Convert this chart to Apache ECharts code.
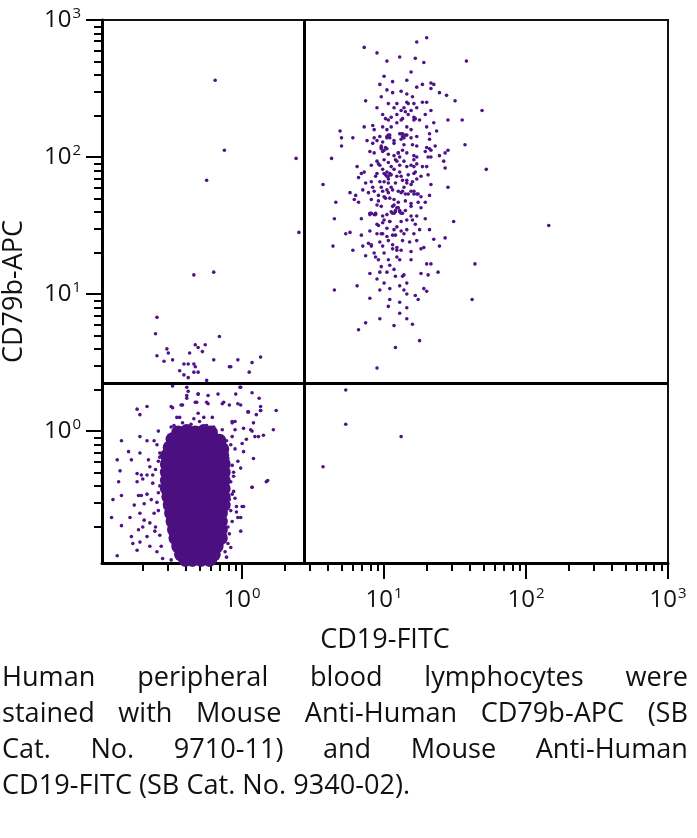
<!DOCTYPE html>
<html>
<head>
<meta charset="utf-8">
<script src="https://cdn.jsdelivr.net/npm/echarts@6/dist/echarts.min.js"></script>
<style>
  html, body { margin: 0; padding: 0; background: #fff; overflow: hidden; }
  #chart { position: absolute; left: 0; top: 0; width: 697px; height: 660px; }
  #caption { position: absolute; left: 2px; top: 657px; font-family: "Open Sans", sans-serif; font-size: 28px; line-height: 36px; color: #111; transform-origin: 0 0; }
  #caption div { white-space: nowrap; }
  #caption .j { text-align: justify; text-align-last: justify; }
</style>
</head>
<body>
<div id="chart"></div>
<div id="caption">
  <div class="j">Human peripheral blood lymphocytes were</div>
  <div class="j">stained with Mouse Anti-Human CD79b-APC (SB</div>
  <div class="j">Cat. No. 9710-11) and Mouse Anti-Human</div>
  <div id="lastLine">CD19-FITC (SB Cat. No. 9340-02).</div>
</div>
<script>
// Axis labels / names
const xName = 'CD19-FITC';
const yName = 'CD79b-APC';
const xMin = 0.103, xMax = 1000;
const yMin = 0.109, yMax = 1000;
const majorTicks = [1, 10, 100, 1000];
const minorTicks = [0.2,0.3,0.4,0.5,0.6,0.7,0.8,0.9, 2,3,4,5,6,7,8,9, 20,30,40,50,60,70,80,90, 200,300,400,500,600,700,800,900];
// Quadrant gates
const gateX = 2.74;
const gateY = 2.24;

// Events as [log10 CD19-FITC, log10 CD79b-APC]
// CD19+ CD79b+ B-cell cluster (upper right)
const bCells = [
[1.30,2.87],[1.23,2.84],[0.86,2.80],[0.95,2.76],[1.11,2.73],[1.22,2.72],[1.02,2.70],[1.28,2.69],[1.58,2.70],[1.19,2.62],[1.00,2.59],[1.16,2.56],[0.97,2.53],[1.06,2.55],[1.27,2.53],[1.33,2.54],[1.35,2.53],[1.33,2.50],[1.39,2.47],[1.44,2.45],[1.06,2.47],[1.12,2.48],[1.16,2.46],[0.98,2.44],[1.20,2.44],[0.87,2.41],[1.03,2.39],[1.09,2.39],[1.16,2.40],[1.17,2.39],[1.14,2.36],[1.30,2.40],[1.27,2.40],[1.50,2.41],[0.95,2.36],[1.12,2.34],[1.19,2.34],[1.23,2.36],[1.33,2.34],[1.69,2.34],
[0.99,2.31],[1.01,2.28],[1.05,2.29],[1.09,2.31],[1.13,2.28],[1.21,2.29],[1.22,2.28],[1.25,2.27],[1.29,2.31],[1.35,2.25],[1.45,2.27],[1.55,2.27],[0.86,2.22],[0.92,2.23],[0.93,2.20],[0.99,2.22],[1.02,2.20],[1.09,2.25],[1.16,2.22],[1.19,2.20],[1.30,2.22],[1.37,2.19],[0.69,2.19],[0.70,2.14],[0.78,2.14],[0.93,2.14],[0.95,2.12],[1.03,2.16],[1.04,2.16],[1.11,2.17],[1.13,2.15],[1.16,2.16],[1.23,2.15],[1.32,2.17],[0.99,2.11],[1.07,2.12],[1.12,2.13],[1.32,2.13],[1.36,2.08],[1.45,2.05],[1.57,2.09],
[0.70,2.08],[0.92,2.10],[0.98,2.08],[1.01,2.07],[1.07,2.10],[1.14,2.09],[1.20,2.09],[1.23,2.08],[1.30,2.07],[1.33,2.05],[0.63,1.99],[0.90,2.04],[0.99,2.04],[1.03,2.02],[1.07,2.01],[1.10,2.03],[1.16,2.03],[1.21,2.01],[1.29,2.04],[1.33,2.00],[1.39,2.01],[1.42,1.97],[1.43,2.03],[0.81,1.93],[0.86,1.89],[0.84,1.88],[0.91,1.94],[0.97,1.94],[1.03,1.96],[1.09,1.97],[1.11,1.94],[1.14,1.97],[1.16,1.93],[1.19,1.94],[1.23,1.95],[1.30,1.93],[1.43,1.92],[1.72,1.91],
[0.95,1.88],[1.01,1.87],[1.04,1.88],[1.11,1.89],[1.17,1.87],[1.21,1.88],[1.31,1.87],[0.82,1.85],[0.57,1.80],[0.87,1.81],[0.91,1.82],[0.97,1.82],[1.00,1.82],[1.03,1.84],[1.08,1.81],[1.13,1.83],[1.16,1.81],[1.20,1.82],[1.23,1.84],[1.33,1.80],[1.45,1.78],[0.76,1.74],[0.80,1.72],[0.85,1.76],[0.89,1.74],[0.93,1.75],[0.99,1.75],[1.03,1.74],[1.06,1.76],[1.10,1.75],[1.13,1.75],[1.17,1.73],[1.21,1.75],[1.23,1.73],[1.32,1.72],
[0.66,1.67],[0.82,1.67],[0.91,1.69],[0.96,1.68],[1.01,1.70],[1.07,1.69],[1.10,1.67],[1.15,1.68],[1.19,1.66],[1.24,1.67],[1.29,1.67],[0.79,1.69],[0.65,1.55],[0.84,1.55],[0.91,1.59],[0.93,1.58],[0.99,1.57],[1.05,1.60],[1.08,1.60],[1.11,1.61],[1.13,1.59],[1.19,1.57],[1.23,1.57],[1.29,1.55],[1.49,1.53],[0.73,1.44],[0.76,1.45],[0.84,1.43],[0.90,1.46],[0.95,1.51],[0.99,1.52],[1.04,1.53],[1.07,1.47],[1.12,1.46],[1.16,1.47],[1.22,1.51],[1.25,1.47],[1.32,1.47],[2.16,1.50],
[0.64,1.35],[0.78,1.32],[0.85,1.35],[0.91,1.36],[0.97,1.38],[0.99,1.35],[1.03,1.39],[1.06,1.36],[1.09,1.34],[1.13,1.39],[1.18,1.38],[1.26,1.33],[1.28,1.34],[1.35,1.40],[1.39,1.35],[1.43,1.41],[0.87,1.28],[0.94,1.27],[0.96,1.25],[1.03,1.25],[1.09,1.27],[1.11,1.25],[1.19,1.31],[1.04,1.21],[1.02,1.16],[0.97,1.16],[0.95,1.11],[1.08,1.13],[1.13,1.13],[1.14,1.14],[1.30,1.22],[1.33,1.22],[1.31,1.14],[1.38,1.16],[1.64,1.22],
[0.65,1.03],[0.81,1.06],[0.90,0.97],[0.97,1.03],[1.04,1.04],[1.11,1.06],[1.14,1.03],[1.16,1.00],[1.22,0.99],[1.24,0.96],[1.28,1.04],[1.30,1.02],[1.62,0.96],[1.04,0.96],[1.11,0.94],[1.03,0.91],[1.16,0.90],[1.11,0.86],[0.97,0.82],[0.87,0.79],[0.82,0.74],[1.07,0.77],[1.16,0.82],[1.20,0.78],[1.25,0.66],[1.08,0.61],[0.95,0.46],
[0.98,2.06],[1.00,2.05],[1.02,1.86],[1.03,1.81],[1.05,1.87],[1.09,1.63],[1.07,1.59],[1.12,1.59],[1.06,1.64],[0.90,1.59],[0.94,1.59],[1.19,1.75],[1.21,1.73],[1.12,2.17],[1.14,2.14],[1.17,2.31],[1.15,2.33],[1.02,1.76],[0.98,1.78],[1.14,1.78],[1.07,1.91],[0.99,1.91],[1.12,1.53],[1.02,1.48],[0.98,1.44],[1.06,1.43],[1.16,1.54],[1.21,1.44],[0.95,1.97],[1.23,2.00],[1.04,1.70],[0.96,1.72],[1.08,1.98],[1.13,2.05],[1.02,2.14],[1.19,2.14],[1.27,1.93],[1.26,1.71],[0.98,1.64],[1.15,1.61],[1.02,1.58],[1.00,1.88],[1.09,1.86],
[1.02,2.15],[1.04,2.14],[1.13,2.17],[1.15,2.16],[0.98,2.07],[1.02,2.06],[1.10,2.03],[1.11,2.00],[1.02,1.89],[1.03,1.86],[1.16,1.83],[1.19,1.80],[1.12,1.74],[1.15,1.73],[1.07,1.65],[1.10,1.63],[1.08,1.61],[1.11,1.60],[1.06,1.59],[0.90,1.58],[0.94,1.58],[1.04,1.53],[0.96,1.50],[0.99,1.44],[1.02,1.42],[1.08,1.43],[0.89,1.37],[0.91,1.35],[1.06,1.33],[1.09,1.32],[0.93,1.30],[1.32,2.06],[1.31,2.00],[1.22,1.89],[1.24,1.73],[0.97,2.15],[1.03,2.27],[1.21,2.27],[0.96,1.95],[1.00,1.98],[1.05,1.93],[1.21,1.93],[1.26,1.86],[0.94,1.86],[0.92,1.78],[1.05,1.78],[1.12,1.86],[1.00,1.71],[0.95,1.65],[1.19,1.64],[1.26,1.63],[1.00,1.54],[1.20,1.54],[1.14,1.44],[0.95,1.44],[1.09,1.49],[1.23,1.39],[1.12,1.32],[1.00,1.30],[1.19,1.25],[0.98,1.20],[1.07,1.18],[1.16,1.08],[1.00,1.08],[0.90,1.15],[1.26,1.15],[1.21,1.98],[0.93,2.03],[0.88,2.12],[1.05,2.22],[1.12,2.27],[1.07,2.36],[1.21,2.39],[1.02,2.49],[1.23,2.51]
];
// Sparse events, upper-left quadrant
const upperLeft = [
[-0.19,2.56],[-0.125,2.05],[0.38,1.99],[-0.25,1.83],[0.40,1.45],[-0.34,1.14],[-0.20,1.16],[-0.60,0.83],[-0.61,0.71],[-0.16,0.69],[-0.33,0.63],[-0.31,0.61],[-0.26,0.63],[-0.53,0.60],[-0.52,0.57],[-0.60,0.55],[-0.28,0.58],[-0.37,0.57],[-0.55,0.51],[-0.49,0.52],[-0.41,0.49],[-0.38,0.49],[-0.34,0.49],[-0.33,0.47],[-0.20,0.52],[-0.09,0.47],[-0.08,0.47],[-0.03,0.52],[0.07,0.50],[0.13,0.54],[-0.44,0.44],[-0.41,0.41],[-0.38,0.39],[-0.34,0.43],[-0.31,0.43],[0.05,0.43]
];
// Sparse events, lower-right quadrant
const lowerRight = [[0.73,0.30],[0.73,0.05],[1.12,-0.04],[0.57,-0.26]];
// Double-negative population: scattered events around the dense core
const dnScatter = [
[-0.49,0.33],[-0.67,0.18],[-0.74,0.16],[-0.50,0.18],[-0.43,0.19],[-0.72,0.12],[-0.46,0.10],[-0.44,0.10],[-0.50,0.03],[-0.59,0.00],[-0.85,-0.07],[-0.72,-0.04],[-0.67,-0.07],[-0.62,-0.07],[-0.80,-0.15],[-0.72,-0.16],[-0.54,-0.14],[-0.88,-0.21],[-0.78,-0.21],[-0.66,-0.21],[-0.58,-0.19],[-0.65,-0.26],[-0.86,-0.29],[-0.74,-0.31],[-0.71,-0.32],[-0.67,-0.32],[-0.63,-0.32],[-0.70,-0.35],[-0.87,-0.37],[-0.74,-0.37],[-0.63,-0.38],[-0.85,-0.47],[-0.73,-0.47],[-0.71,-0.47],[-0.67,-0.46],[-0.91,-0.50],[-0.76,-0.54],[-0.69,-0.53],[-0.64,-0.50],[-0.92,-0.63],[-0.85,-0.69],[-0.79,-0.63],[-0.72,-0.60],[-0.69,-0.65],[-0.65,-0.67],[-0.78,-0.77],[-0.73,-0.72],[-0.70,-0.70],[-0.77,-0.82],[-0.72,-0.81],[-0.67,-0.77],[-0.615,-0.73],[-0.74,-0.87],[-0.65,-0.84],[-0.88,-0.91],[-0.60,-0.88],[-0.56,-0.93],[-0.50,-0.94],
[-0.25,0.37],[-0.31,0.27],[-0.24,0.26],[-0.17,0.27],[-0.045,0.27],[-0.015,0.32],[0.07,0.28],[-0.33,0.21],[-0.24,0.20],[-0.14,0.20],[-0.09,0.19],[-0.03,0.20],[0.045,0.14],[0.10,0.12],[0.13,0.15],[-0.31,0.13],[-0.21,0.10],[-0.07,0.06],[-0.05,0.07],[0.08,0.06],[-0.14,0.01],[-0.05,0.01],[0.06,0.01],[0.09,-0.04],[0.115,-0.04],[0.22,0.01],[-0.11,-0.07],[-0.07,-0.04],[0.00,-0.09],[-0.05,-0.13],[0.01,-0.15],[0.08,-0.20],[-0.03,-0.22],[-0.10,-0.20],[-0.01,-0.27],[-0.06,-0.33],[0.07,-0.41],[0.18,-0.36],[-0.10,-0.41],[-0.07,-0.46],[-0.05,-0.49],[-0.10,-0.54],[0.00,-0.55],[-0.04,-0.59],[-0.13,-0.63],[-0.03,-0.63],[-0.10,-0.70],[-0.01,-0.73],[-0.13,-0.77],[-0.10,-0.82],[-0.12,-0.88],[-0.18,-0.91],[-0.19,-0.95],
[-0.39,0.32],[-0.38,0.29],[-0.39,0.26],[-0.39,0.24],[-0.31,0.27],[-0.01,0.32],[0.12,0.24],[-0.32,0.21],[-0.25,0.21],[-0.13,0.21],[-0.01,0.19],[0.13,0.18],[0.24,0.15],[-0.42,0.19],[-0.49,0.17],[0.04,0.14],[0.13,0.15],[-0.07,0.07],[0.01,0.02],[0.07,0.00],[0.15,-0.03],[0.03,-0.06],[0.17,-0.37],[0.07,-0.41],[0.01,-0.55],[-0.01,-0.63],[-0.04,-0.55],
[-0.60,-0.10],[-0.59,-0.22],[-0.61,-0.28],[-0.58,-0.40],[-0.60,-0.52],[-0.59,-0.58],[-0.61,-0.70],[-0.58,-0.76],[-0.57,-0.84],[-0.59,-0.45],[-0.62,-0.60],[-0.58,-0.16],
[-0.08,-0.10],[-0.07,-0.25],[-0.08,-0.37],[-0.06,-0.44],[-0.08,-0.58],[-0.07,-0.66],[-0.09,-0.75],[-0.08,-0.85],[-0.11,-0.92],[-0.06,-0.30],[-0.09,-0.50],
[-0.48,0.04],[-0.42,0.06],[-0.36,0.05],[-0.30,0.07],[-0.25,0.04],[-0.20,0.03],[-0.34,0.09],[-0.27,0.10]
];
// Double-negative dense core
const dnCore = [
[-0.45,-0.01],[-0.39,0.00],[-0.33,-0.01],[-0.27,0.00],[-0.22,-0.01],
[-0.49,-0.06],[-0.44,-0.06],[-0.38,-0.06],[-0.32,-0.06],[-0.26,-0.06],[-0.20,-0.06],[-0.16,-0.07],
[-0.51,-0.12],[-0.46,-0.12],[-0.40,-0.12],[-0.34,-0.12],[-0.28,-0.12],[-0.22,-0.12],[-0.16,-0.12],[-0.14,-0.13],
[-0.53,-0.18],[-0.48,-0.18],[-0.42,-0.18],[-0.36,-0.18],[-0.30,-0.18],[-0.24,-0.18],[-0.18,-0.18],[-0.14,-0.18],
[-0.53,-0.24],[-0.47,-0.24],[-0.41,-0.24],[-0.35,-0.24],[-0.29,-0.24],[-0.23,-0.24],[-0.17,-0.24],[-0.13,-0.24],
[-0.53,-0.30],[-0.48,-0.30],[-0.42,-0.30],[-0.36,-0.30],[-0.30,-0.30],[-0.24,-0.30],[-0.18,-0.30],[-0.13,-0.30],
[-0.53,-0.36],[-0.47,-0.36],[-0.41,-0.36],[-0.35,-0.36],[-0.29,-0.36],[-0.23,-0.36],[-0.17,-0.36],[-0.13,-0.36],
[-0.53,-0.42],[-0.48,-0.42],[-0.42,-0.42],[-0.36,-0.42],[-0.30,-0.42],[-0.24,-0.42],[-0.18,-0.42],[-0.13,-0.42],
[-0.52,-0.48],[-0.47,-0.48],[-0.41,-0.48],[-0.35,-0.48],[-0.29,-0.48],[-0.23,-0.48],[-0.17,-0.48],[-0.13,-0.48],
[-0.51,-0.54],[-0.46,-0.54],[-0.40,-0.54],[-0.34,-0.54],[-0.28,-0.54],[-0.22,-0.54],[-0.16,-0.54],[-0.13,-0.54],
[-0.50,-0.60],[-0.45,-0.60],[-0.39,-0.60],[-0.33,-0.60],[-0.27,-0.60],[-0.21,-0.60],[-0.15,-0.60],
[-0.49,-0.66],[-0.44,-0.66],[-0.38,-0.66],[-0.32,-0.66],[-0.26,-0.66],[-0.20,-0.66],[-0.15,-0.66],
[-0.48,-0.72],[-0.43,-0.72],[-0.37,-0.72],[-0.31,-0.72],[-0.25,-0.72],[-0.19,-0.72],[-0.15,-0.72],
[-0.47,-0.78],[-0.42,-0.78],[-0.36,-0.78],[-0.30,-0.78],[-0.24,-0.78],[-0.18,-0.78],[-0.15,-0.78],
[-0.45,-0.84],[-0.40,-0.84],[-0.34,-0.84],[-0.28,-0.84],[-0.22,-0.84],[-0.18,-0.84],
[-0.43,-0.90],[-0.38,-0.90],[-0.32,-0.90],[-0.26,-0.90],[-0.20,-0.90],
[-0.40,-0.94],[-0.35,-0.94],[-0.29,-0.94],[-0.23,-0.94]
];

const toLinear = arr => arr.map(p => [Math.pow(10, p[0]), Math.pow(10, p[1])]);
const dotColor = '#4f1288';
const coreColor = '#4b0f80';
const FONT = '"Open Sans", sans-serif';

const supLabel = v => '{b|10}{s|' + Math.round(Math.log10(v)) + '}';
const richStyle = {
  b: { fontSize: 24, fontFamily: FONT, color: '#111', lineHeight: 28 },
  s: { fontSize: 15, fontFamily: FONT, color: '#111', verticalAlign: 'top', lineHeight: 28, padding: [0, 0, 0, 1] }
};

const baseAxis = (min, max) => ({
  type: 'log', logBase: 10, min: min, max: max,
  splitLine: { show: false }, minorTick: { show: false }, minorSplitLine: { show: false }
});

const chart = echarts.init(document.getElementById('chart'), null, { renderer: 'canvas' });
chart.setOption({
  animation: false,
  backgroundColor: '#fff',
  grid: { left: 102, top: 20, width: 566, height: 543, containLabel: false, outerBoundsMode: 'none',
          show: true, borderColor: '#111', borderWidth: 2, backgroundColor: 'transparent' },
  xAxis: [
    Object.assign(baseAxis(xMin, xMax), {
      position: 'bottom',
      axisLine: { show: true, lineStyle: { color: '#000', width: 3 } },
      axisTick: { show: true, customValues: minorTicks, length: 8, lineStyle: { color: '#000', width: 2 } },
      axisLabel: { show: false },
      name: xName, nameLocation: 'middle', nameGap: 64,
      nameTextStyle: { fontSize: 27, fontFamily: FONT, color: '#111' }
    }),
    Object.assign(baseAxis(xMin, xMax), {
      position: 'bottom',
      axisLine: { show: false },
      axisTick: { show: true, customValues: majorTicks, length: 16, lineStyle: { color: '#000', width: 2 } },
      axisLabel: { show: true, customValues: majorTicks, margin: 23, formatter: supLabel, rich: richStyle }
    })
  ],
  yAxis: [
    Object.assign(baseAxis(yMin, yMax), {
      position: 'left',
      axisLine: { show: true, lineStyle: { color: '#000', width: 3 } },
      axisTick: { show: true, customValues: minorTicks, length: 8, lineStyle: { color: '#000', width: 2 } },
      axisLabel: { show: false },
      name: yName, nameLocation: 'middle', nameGap: 74,
      nameTextStyle: { fontSize: 27, fontFamily: FONT, color: '#111' }
    }),
    Object.assign(baseAxis(yMin, yMax), {
      position: 'left',
      axisLine: { show: false },
      axisTick: { show: true, customValues: majorTicks, length: 16, lineStyle: { color: '#000', width: 2 } },
      axisLabel: { show: true, customValues: majorTicks, margin: 21, formatter: supLabel, rich: richStyle }
    })
  ],
  series: [
    {
      name: 'core', type: 'scatter', xAxisIndex: 0, yAxisIndex: 0,
      symbol: 'circle', symbolSize: 14, itemStyle: { color: coreColor, opacity: 1 },
      data: toLinear(dnCore), silent: true
    },
    {
      name: 'events', type: 'scatter', xAxisIndex: 0, yAxisIndex: 0,
      symbol: 'circle', symbolSize: 3.6, itemStyle: { color: dotColor, opacity: 1 },
      data: toLinear(bCells.concat(upperLeft, lowerRight, dnScatter)), silent: true,
      markLine: {
        silent: true, symbol: ['none', 'none'], label: { show: false },
        lineStyle: { color: '#000', width: 3, type: 'solid', opacity: 1 },
        data: [{ xAxis: gateX }, { yAxis: gateY }]
      }
    }
  ]
});

// Fit the caption block: last (unjustified) line ends near x = 410
(function fitCaption() {
  const cap = document.getElementById('caption');
  const last = document.getElementById('lastLine');
  const cv = document.createElement('canvas').getContext('2d');
  cv.font = '28px "Open Sans"';
  const natural = cv.measureText(last.textContent).width;
  const sx = Math.min(1, 408 / natural);
  cap.style.width = (686 / sx) + 'px';
  cap.style.transform = 'scaleX(' + sx + ')';
})();
</script>
</body>
</html>
